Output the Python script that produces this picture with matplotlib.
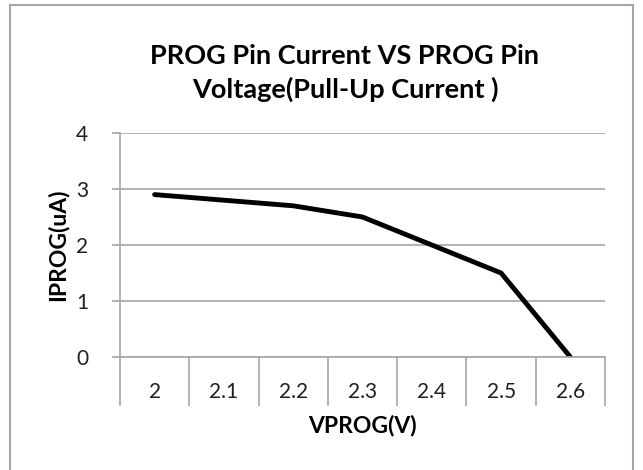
import matplotlib.pyplot as plt
from matplotlib.patches import Rectangle

# data
vprog = ['2', '2.1', '2.2', '2.3', '2.4', '2.5', '2.6']
iprog = [2.9, 2.8, 2.7, 2.5, 2.0, 1.5, 0.0]
yticks = [0, 1, 2, 3, 4]

plt.rcParams['font.family'] = ['Lato', 'DejaVu Sans']
grid_col = '#a6a6a6'

fig = plt.figure(figsize=(6.43, 4.70), dpi=100)
W, H = 643, 470

# outer chart frame (extends below the picture like in the reference)
fig.patches.append(Rectangle((10 / W, -0.05), 623 / W, 1.05 - 5 / H,
                             transform=fig.transFigure, fill=False,
                             edgecolor=grid_col, linewidth=1.5))

ax = fig.add_axes([120 / W, 1 - 357 / H, 485 / W, 224 / H])
x = range(len(vprog))
ax.plot(x, iprog, color='black', linewidth=3.5, solid_capstyle='round')

ax.set_xlim(-0.5, len(vprog) - 0.5)
ax.set_ylim(0, 4)
ax.set_yticks(yticks)
ax.grid(axis='y', color=grid_col, linewidth=1.2)
ax.set_axisbelow(True)

# category axis: labels in the middle, tick lines on the boundaries
ax.set_xticks(list(x))
ax.set_xticklabels(vprog, fontsize=15, color='#1f1f1f')
ax.tick_params(axis='x', length=0, pad=18)
ax.set_xticks([i - 0.5 for i in range(len(vprog) + 1)], minor=True)
ax.tick_params(axis='x', which='minor', length=35, width=1.2, color=grid_col)
ax.tick_params(axis='y', length=6, width=1.2, color=grid_col, labelsize=15,
               labelcolor='#1f1f1f', pad=17)

for s in ['top', 'right']:
    ax.spines[s].set_visible(False)
for s in ['left', 'bottom']:
    ax.spines[s].set_color(grid_col)
    ax.spines[s].set_linewidth(1.2)

ax.set_xlabel('VPROG(V)', fontsize=16.5, fontweight='bold')
ax.xaxis.set_label_coords(0.5, -(425 - 357) / 224, transform=ax.transAxes)
ax.xaxis.label.set_va('center')
ax.set_ylabel('IPROG(uA)', fontsize=16.5, fontweight='bold')
ax.yaxis.set_label_coords(-(120 - 58) / 485, 0.5)
ax.yaxis.label.set_va('center')
fig.text(345 / W, 1 - 73 / H,
         'PROG Pin Current VS PROG Pin\nVoltage(Pull-Up Current )',
         ha='center', va='center', fontsize=19.5, fontweight='bold',
         linespacing=1.45)

plt.savefig('out.png', dpi=100)
